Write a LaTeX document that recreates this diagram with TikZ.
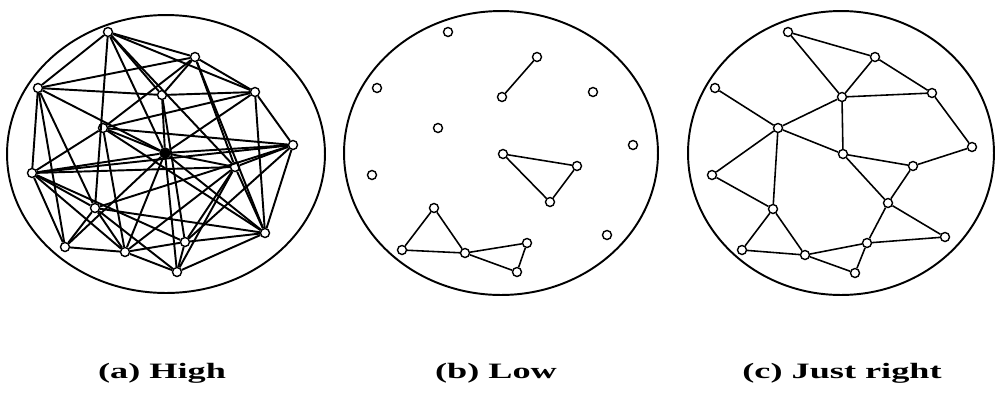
\documentclass[tikz,border=0pt]{standalone}
\usepackage{fontspec}
\setmainfont{Liberation Serif}
\begin{document}
\begin{tikzpicture}[x=0.02cm,y=-0.02cm,
  dot/.style={circle,draw,fill=white,inner sep=0pt,minimum size=0.18cm,line width=0.8pt},
  hub/.style={circle,draw,fill=black,inner sep=0pt,minimum size=0.2cm,line width=0.8pt},
  ring/.style={line width=1.1pt},
  dense/.style={line width=1.1pt},
  link/.style={line width=0.9pt},
  lab/.style={anchor=base,inner sep=0pt,font=\fontsize{12.5}{14}\selectfont\bfseries}]
\useasboundingbox (0,0) rectangle (995,397);
% ---------- (a) High ----------
\draw[ring] (166,154) ellipse [x radius=3.18cm, y radius=2.78cm];
\node[dot] (a1) at (108,32) {};
\node[dot] (a2) at (195,57) {};
\node[dot] (a3) at (38,88) {};
\node[dot] (a4) at (255,92) {};
\node[dot] (a5) at (162,95) {};
\node[dot] (a6) at (103,128) {};
\node[hub] (a7) at (165,153) {};
\node[dot] (a8) at (293,145) {};
\node[dot] (a9) at (32,173) {};
\node[dot] (a10) at (235,167) {};
\node[dot] (a11) at (95,208) {};
\node[dot] (a12) at (65,247) {};
\node[dot] (a13) at (125,252) {};
\node[dot] (a14) at (185,242) {};
\node[dot] (a15) at (265,233) {};
\node[dot] (a16) at (177,272) {};
\foreach \u/\v in {a1/a2,a2/a4,a4/a8,a8/a15,a15/a16,a16/a13,a13/a12,a12/a9,a9/a3,a3/a1,
  a1/a4,a1/a5,a1/a7,a1/a11,a1/a10,
  a2/a3,a2/a5,a2/a6,a2/a10,a2/a15,
  a3/a5,a5/a4,a3/a7,a3/a11,a3/a12,
  a4/a6,a4/a15,a4/a7,
  a5/a7,a5/a14,
  a6/a9,a6/a7,a6/a8,a6/a13,a6/a15,
  a7/a8,a7/a9,a7/a10,a7/a12,a7/a13,a7/a16,a7/a15,
  a8/a9,a8/a10,a8/a11,a8/a14,
  a9/a10,a9/a11,a9/a13,a9/a14,
  a10/a13,a10/a14,a10/a15,a10/a16,
  a11/a12,a11/a13,a11/a15,a11/a16,
  a13/a14,a14/a15,a14/a16}
  \draw[dense] (\u) -- (\v);
% ---------- (b) Low ----------
\draw[ring] (501,153) ellipse [x radius=3.14cm, y radius=2.84cm];
\node[dot] (b1) at (448,32) {};
\node[dot] (b2) at (537,57) {};
\node[dot] (b3) at (377,88) {};
\node[dot] (b4) at (502,97) {};
\node[dot] (b5) at (593,92) {};
\node[dot] (b6) at (438,128) {};
\node[dot] (b7) at (633,145) {};
\node[dot] (b8) at (503,154) {};
\node[dot] (b9) at (577,166) {};
\node[dot] (b10) at (372,175) {};
\node[dot] (b11) at (550,202) {};
\node[dot] (b12) at (434,208) {};
\node[dot] (b13) at (607,235) {};
\node[dot] (b14) at (402,250) {};
\node[dot] (b15) at (465,253) {};
\node[dot] (b16) at (527,243) {};
\node[dot] (b17) at (517,272) {};
\foreach \u/\v in {b2/b4,b8/b9,b9/b11,b11/b8,b12/b14,b12/b15,b14/b15,b15/b16,b15/b17,b16/b17}
  \draw[link] (\u) -- (\v);
% ---------- (c) Just right ----------
\draw[ring] (841,153) ellipse [x radius=3.06cm, y radius=2.84cm];
\node[dot] (c1) at (788,32) {};
\node[dot] (c2) at (875,57) {};
\node[dot] (c3) at (715,88) {};
\node[dot] (c4) at (842,97) {};
\node[dot] (c5) at (932,93) {};
\node[dot] (c6) at (778,128) {};
\node[dot] (c7) at (972,147) {};
\node[dot] (c8) at (843,154) {};
\node[dot] (c9) at (913,166) {};
\node[dot] (c10) at (712,175) {};
\node[dot] (c11) at (888,203) {};
\node[dot] (c12) at (773,209) {};
\node[dot] (c13) at (945,237) {};
\node[dot] (c14) at (742,250) {};
\node[dot] (c15) at (805,255) {};
\node[dot] (c16) at (867,243) {};
\node[dot] (c17) at (855,273) {};
\foreach \u/\v in {c1/c2,c1/c4,c2/c4,c2/c5,c4/c5,c5/c7,c3/c6,c6/c4,c4/c8,c6/c8,c8/c9,c9/c7,
  c8/c11,c9/c11,c6/c10,c6/c12,c10/c12,c12/c14,c12/c15,c14/c15,c15/c16,c15/c17,c16/c17,
  c16/c13,c11/c16,c11/c13}
  \draw[link] (\u) -- (\v);
% ---------- labels ----------
\node[lab] (la) at (162,378) {\scalebox{1.65}[1]{(a) High}};
\node[lab] (lb) at (496,378) {\scalebox{1.65}[1]{(b) Low}};
\node[lab] (lc) at (842,378) {\scalebox{1.65}[1]{(c) Just right}};
\end{tikzpicture}
\end{document}
